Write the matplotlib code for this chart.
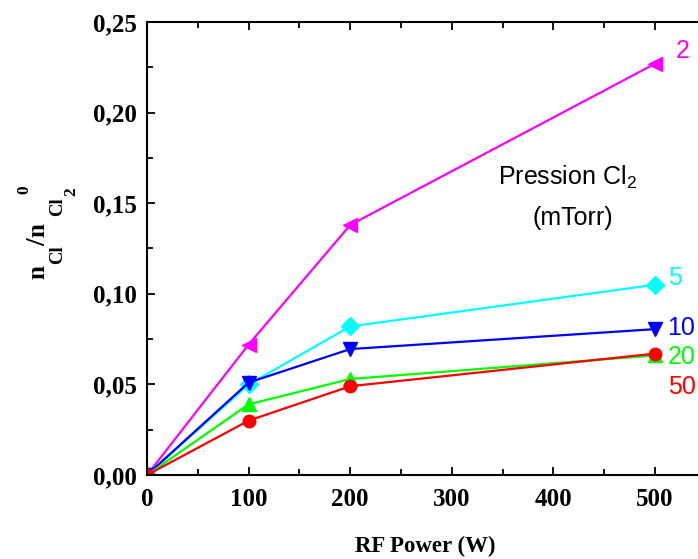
import matplotlib
matplotlib.use("Agg")
import matplotlib.pyplot as plt
from matplotlib.ticker import MultipleLocator, FuncFormatter

# RF power (W) and the density ratio for each Cl2 pressure (mTorr)
power = [0, 100, 200, 500]
pressures = ["2", "5", "10", "20", "50"]
ratio_2 = [0.0, 0.072, 0.138, 0.227]
ratio_5 = [0.0, 0.050, 0.082, 0.105]
ratio_10 = [0.0, 0.051, 0.0695, 0.0805]
ratio_20 = [0.0, 0.039, 0.053, 0.066]
ratio_50 = [0.0, 0.030, 0.049, 0.067]

series = [ratio_2, ratio_5, ratio_10, ratio_20, ratio_50]
colors = ["#ff00ff", "#00ffff", "#0000ff", "#00ff00", "#ff0000"]
markers = ["<", "D", "v", "^", "o"]
msizes = [10, 9, 10, 10, 9]
# where the pressure labels sit (x, y) in data units
label_pos = [(520, 0.234), (513, 0.1087), (512, 0.0811), (513, 0.0651), (513, 0.0486)]

# y label written Origin-style, piece by piece: (text, size, start y px, baseline x px)
ylabel_parts = [("n", 18, 279, 44), ("Cl", 13.5, 264, 62), ("/", 20, 246, 45),
                ("n", 18, 237, 44), ("Cl", 13.5, 216, 62), ("2", 12.5, 196, 75),
                ("0", 12.5, 194, 28)]

plt.rcParams['mathtext.fontset'] = 'custom'
plt.rcParams['mathtext.rm'] = 'Liberation Sans'

W, H = 698, 559
fig = plt.figure(figsize=(W / 100, H / 100), dpi=100)
ax = fig.add_axes([147 / W, 84 / H, 558.8 / W, 453 / H])

for vals, c, m, ms in zip(series, colors, markers, msizes):
    ax.plot(power, vals, color=c, marker=m, markersize=ms, linewidth=1.6)

for p, (x, y), c in zip(pressures, label_pos, colors):
    ax.text(x, y, p, color=c, fontsize=18, family='Liberation Sans', ha='left', va='center')

ax.text(414, 0.1645, "Pression Cl$_2$", fontsize=18, family='Liberation Sans', ha='center', va='center')
ax.text(419, 0.1418, "(mTorr)", fontsize=18, family='Liberation Sans', ha='center', va='center')

ax.set_xlim(0, 550)
ax.set_ylim(0, 0.25)
ax.xaxis.set_major_locator(MultipleLocator(100))
ax.xaxis.set_minor_locator(MultipleLocator(50))
ax.yaxis.set_major_locator(MultipleLocator(0.05))
ax.yaxis.set_minor_locator(MultipleLocator(0.025))
ax.yaxis.set_major_formatter(FuncFormatter(lambda v, pos: f"{v:.2f}".replace(".", ",")))

ax.tick_params(which='both', direction='in', top=True, right=True, width=1.3)
ax.tick_params(which='major', length=6)
ax.tick_params(which='minor', length=4)
ax.tick_params(axis='x', pad=9)
ax.tick_params(axis='y', pad=7)
for lab in ax.get_xticklabels() + ax.get_yticklabels():
    lab.set_fontfamily('Liberation Serif')
    lab.set_fontweight('bold')
    lab.set_fontsize(18)
for sp in ax.spines.values():
    sp.set_linewidth(1.5)

ax.set_xlabel("RF Power (W)", family='Liberation Serif', fontweight='bold', fontsize=16.5)
ax.xaxis.set_label_coords(0.4975, -0.135)

for s, size, ys, xb in ylabel_parts:
    fig.text(xb / W, 1 - ys / H, s, fontsize=size, family='Liberation Serif', fontweight='bold',
             rotation=90, rotation_mode='anchor', ha='left', va='baseline')

plt.savefig("out.png", dpi=100)
